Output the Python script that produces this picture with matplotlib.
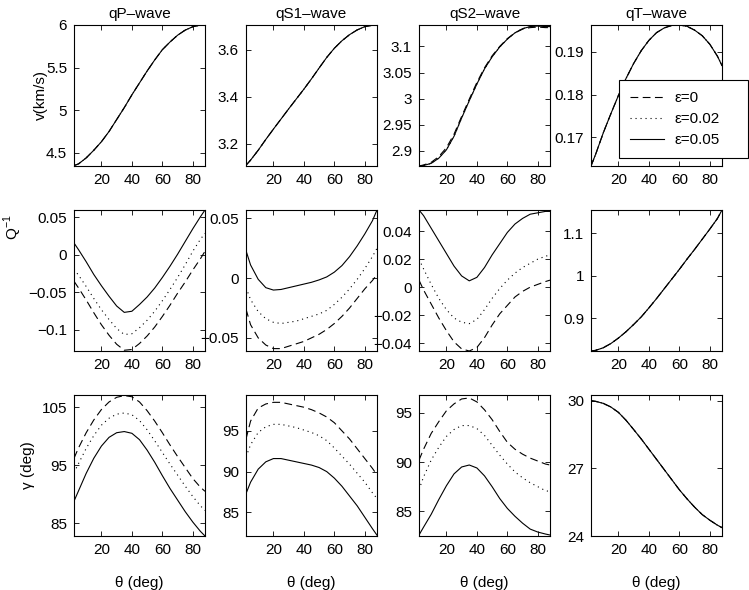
import matplotlib
matplotlib.use("Agg")
import matplotlib.pyplot as plt
from matplotlib.ticker import FuncFormatter

plt.rcParams['font.family'] = ['Liberation Sans', 'DejaVu Sans']
plt.rcParams['font.size'] = 11

# incidence angle (deg)
theta = [2, 5, 10, 15, 20, 25, 30, 35, 40, 45, 50, 55, 60, 65, 70, 75, 80, 85, 88]

wave_names = ['qP\u2013wave', 'qS1\u2013wave', 'qS2\u2013wave', 'qT\u2013wave']
eps_labels = ['\u03b5=0', '\u03b5=0.02', '\u03b5=0.05']

# ---- velocity v (km/s) ----
v_qP = [4.35, 4.37, 4.44, 4.53, 4.63, 4.75, 4.89, 5.03, 5.18, 5.32, 5.46, 5.59, 5.71, 5.80, 5.88, 5.94, 5.98, 6.0, 6.0]
v_qS1 = [3.108, 3.13, 3.172, 3.218, 3.262, 3.305, 3.348, 3.39, 3.432, 3.476, 3.522, 3.567, 3.606, 3.638, 3.664, 3.684, 3.698, 3.704, 3.704]
v_qS2_e0 = [2.871, 2.873, 2.878, 2.889, 2.906, 2.932, 2.966, 2.999, 3.031, 3.059, 3.082, 3.100, 3.115, 3.126, 3.133, 3.136, 3.137, 3.136, 3.136]
v_qS2 = [2.871, 2.872, 2.876, 2.886, 2.902, 2.928, 2.963, 2.996, 3.028, 3.057, 3.080, 3.099, 3.114, 3.126, 3.134, 3.138, 3.139, 3.138, 3.138]
v_qT = [0.1633, 0.1660, 0.1710, 0.1755, 0.1798, 0.1838, 0.1873, 0.1903, 0.1927, 0.1945, 0.1956, 0.1962, 0.1963, 0.1960, 0.1951, 0.1938, 0.1918, 0.1890, 0.1868]

# ---- attenuation Q^-1 (eps = 0, 0.02, 0.05) ----
q_qP_e0 = [-0.035, -0.044, -0.060, -0.077, -0.093, -0.107, -0.119, -0.127, -0.126, -0.118, -0.108, -0.096, -0.082, -0.067, -0.051, -0.036, -0.020, -0.005, 0.005]
q_qP_e2 = [-0.019, -0.027, -0.042, -0.058, -0.073, -0.086, -0.098, -0.106, -0.105, -0.097, -0.087, -0.075, -0.061, -0.046, -0.030, -0.013, 0.005, 0.021, 0.029]
q_qP_e5 = [0.016, 0.007, -0.009, -0.026, -0.041, -0.055, -0.068, -0.0765, -0.075, -0.066, -0.056, -0.044, -0.030, -0.015, 0.001, 0.018, 0.035, 0.051, 0.060]

q_qS1_e0 = [-0.026, -0.039, -0.050, -0.056, -0.059, -0.059, -0.057, -0.055, -0.053, -0.050, -0.047, -0.043, -0.038, -0.032, -0.025, -0.017, -0.009, -0.002, 0.003]
q_qS1_e2 = [-0.008, -0.018, -0.028, -0.034, -0.037, -0.038, -0.037, -0.036, -0.034, -0.032, -0.030, -0.027, -0.022, -0.016, -0.009, -0.001, 0.008, 0.018, 0.025]
q_qS1_e5 = [0.023, 0.011, -0.001, -0.008, -0.010, -0.0095, -0.008, -0.0065, -0.005, -0.0035, -0.0015, 0.001, 0.005, 0.0105, 0.018, 0.027, 0.037, 0.048, 0.057]

q_qS2_e0 = [0.005, -0.002, -0.012, -0.022, -0.031, -0.039, -0.044, -0.0455, -0.043, -0.036, -0.027, -0.019, -0.013, -0.007, -0.003, 0.000, 0.002, 0.004, 0.005]
q_qS2_e2 = [0.020, 0.013, 0.002, -0.008, -0.016, -0.022, -0.025, -0.026, -0.023, -0.016, -0.008, -0.001, 0.005, 0.010, 0.014, 0.017, 0.020, 0.022, 0.023]
q_qS2_e5 = [0.055, 0.051, 0.042, 0.033, 0.024, 0.015, 0.008, 0.0045, 0.007, 0.014, 0.023, 0.031, 0.039, 0.045, 0.049, 0.052, 0.053, 0.054, 0.054]

q_qT = [0.8225, 0.824, 0.830, 0.840, 0.853, 0.868, 0.885, 0.903, 0.924, 0.946, 0.969, 0.992, 1.015, 1.039, 1.062, 1.086, 1.110, 1.135, 1.155]

# ---- gamma (deg) ----
g_qP_e0 = [96.2, 98.0, 100.6, 102.8, 104.6, 105.9, 106.7, 107.0, 106.8, 105.9, 104.4, 102.6, 100.6, 98.5, 96.5, 94.6, 92.7, 91.2, 90.5]
g_qP_e2 = [93.7, 95.3, 97.9, 100.1, 101.9, 103.1, 103.8, 104.0, 103.7, 102.7, 101.1, 99.2, 97.2, 95.2, 93.3, 91.4, 89.6, 88.0, 87.2]
g_qP_e5 = [88.8, 90.6, 93.6, 96.2, 98.3, 99.8, 100.6, 100.8, 100.5, 99.4, 97.6, 95.5, 93.2, 91.0, 89.0, 87.0, 85.2, 83.6, 82.8]

g_qS1_e0 = [94.0, 96.2, 97.8, 98.3, 98.5, 98.5, 98.3, 98.1, 97.9, 97.6, 97.2, 96.7, 96.0, 95.0, 94.0, 92.8, 91.6, 90.4, 89.6]
g_qS1_e2 = [91.8, 93.3, 94.8, 95.5, 95.8, 95.8, 95.6, 95.4, 95.1, 94.8, 94.4, 93.8, 92.9, 91.9, 90.9, 89.8, 88.7, 87.4, 86.7]
g_qS1_e5 = [87.3, 88.7, 90.3, 91.2, 91.6, 91.6, 91.4, 91.2, 91.0, 90.8, 90.5, 90.0, 89.2, 88.2, 87.0, 85.8, 84.4, 83.0, 82.2]

g_qS2_e0 = [90.2, 91.3, 92.9, 94.1, 95.2, 95.9, 96.4, 96.5, 96.1, 95.3, 94.3, 93.1, 92.0, 91.3, 90.8, 90.4, 90.1, 89.8, 89.7]
g_qS2_e2 = [87.2, 88.5, 90.2, 91.5, 92.6, 93.3, 93.7, 93.7, 93.4, 92.7, 91.7, 90.7, 89.8, 89.0, 88.4, 87.9, 87.5, 87.1, 87.0]
g_qS2_e5 = [82.6, 83.4, 84.7, 86.2, 87.6, 88.8, 89.5, 89.7, 89.4, 88.6, 87.5, 86.3, 85.3, 84.5, 83.8, 83.2, 82.9, 82.7, 82.6]

g_qT = [30.0, 29.97, 29.88, 29.72, 29.48, 29.13, 28.72, 28.3, 27.85, 27.4, 26.95, 26.5, 26.05, 25.65, 25.28, 24.95, 24.7, 24.48, 24.37]

# curves per panel, ordered eps = 0, 0.02, 0.05
panels = [
    [(v_qP, v_qP, v_qP), (v_qS1, v_qS1, v_qS1), (v_qS2_e0, v_qS2, v_qS2), (v_qT, v_qT, v_qT)],
    [(q_qP_e0, q_qP_e2, q_qP_e5), (q_qS1_e0, q_qS1_e2, q_qS1_e5), (q_qS2_e0, q_qS2_e2, q_qS2_e5), (q_qT, q_qT, q_qT)],
    [(g_qP_e0, g_qP_e2, g_qP_e5), (g_qS1_e0, g_qS1_e2, g_qS1_e5), (g_qS2_e0, g_qS2_e2, g_qS2_e5), (g_qT, g_qT, g_qT)],
]

ylims = [
    [(4.345, 6.0), (3.105, 3.705), (2.871, 3.141), (0.1633, 0.1963)],
    [(-0.128, 0.06), (-0.061, 0.057), (-0.0455, 0.055), (0.8225, 1.155)],
    [(82.8, 107.1), (82.1, 99.4), (82.5, 96.8), (24.0, 30.25)],
]
yticks = [
    [[4.5, 5, 5.5, 6], [3.2, 3.4, 3.6], [2.9, 2.95, 3, 3.05, 3.1], [0.17, 0.18, 0.19]],
    [[-0.1, -0.05, 0, 0.05], [-0.05, 0, 0.05], [-0.04, -0.02, 0, 0.02, 0.04], [0.9, 1, 1.1]],
    [[85, 95, 105], [85, 90, 95], [85, 90, 95], [24, 27, 30]],
]

line_styles = [(0, (7, 4)), (0, (1, 3.5)), '-']

W, H = 749, 590
col_left = [74, 246, 419, 591]
row_top = [25, 210, 395]
ax_w, ax_h = 131, 141

fmt = FuncFormatter(lambda v, _: ('%g' % v).replace('-', '\u2212'))

fig = plt.figure(figsize=(W / 100, H / 100), dpi=100)

legend_lines = None
for r in range(3):
    for c in range(4):
        ax = fig.add_axes([col_left[c] / W, 1 - (row_top[r] + ax_h) / H, ax_w / W, ax_h / H])
        lines = []
        for curve, ls in zip(panels[r][c], line_styles):
            ln, = ax.plot(theta, curve, color='black', linestyle=ls, linewidth=0.8)
            lines.append(ln)
        if r == 0 and c == 3:
            legend_lines = lines
        ax.set_xlim(2, 88)
        ax.set_ylim(*ylims[r][c])
        ax.set_xticks([20, 40, 60, 80])
        ax.set_yticks(yticks[r][c])
        ax.yaxis.set_major_formatter(fmt)
        ax.tick_params(direction='in', top=True, right=True, length=3.5, width=0.6,
                       labelsize=11, pad=5)
        for s in ax.spines.values():
            s.set_linewidth(0.8)
        if r == 0:
            ax.set_title(wave_names[c], fontsize=11, pad=5)
        if r == 2:
            ax.set_xlabel('\u03b8 (deg)', fontsize=11)
            ax.xaxis.set_label_coords(0.5, -0.33)
            ax.xaxis.label.set_va('center')
        if c == 0:
            if r == 0:
                ax.set_ylabel('v(km/s)', fontsize=11)
                ax.yaxis.set_label_coords(-0.255, 0.5)
            elif r == 1:
                ax.set_ylabel('Q$^{\\mathregular{-1}}$', fontsize=11)
                ax.yaxis.set_label_coords(-0.47, 0.88)
            else:
                ax.set_ylabel('\u03b3 (deg)', fontsize=11)
                ax.yaxis.set_label_coords(-0.35, 0.5)
            ax.yaxis.label.set_va('center')

leg = fig.legend(legend_lines, eps_labels, loc='center',
                 bbox_to_anchor=(619 / W, 1 - 160 / H, 129 / W, 82 / H), mode='expand',
                 fancybox=False, edgecolor='black', framealpha=1, fontsize=11,
                 handlelength=2.2, handletextpad=0.7, labelspacing=0.45,
                 borderpad=0.73, borderaxespad=0)
leg.get_frame().set_linewidth(0.8)

fig.savefig('out.png', dpi=100)
